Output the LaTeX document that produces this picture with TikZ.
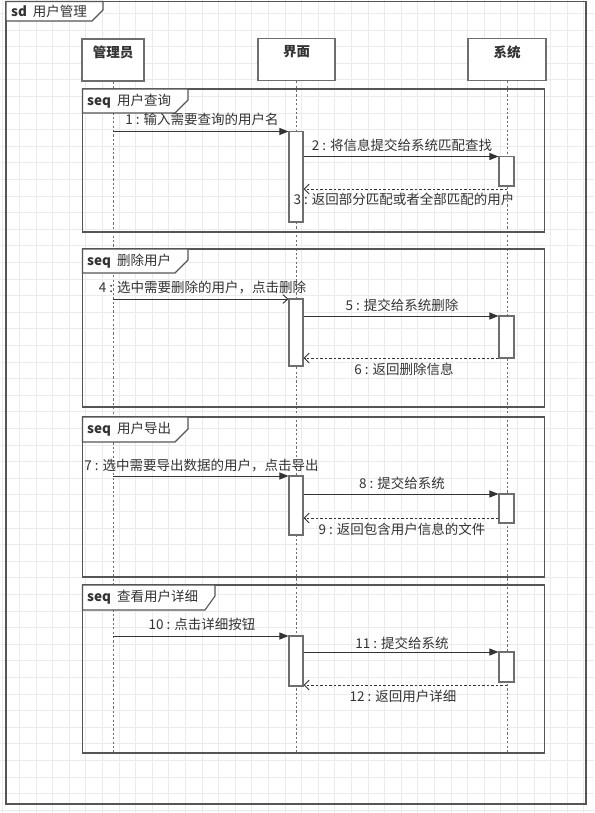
\documentclass[tikz,border=0pt]{standalone}
\usepackage{fontspec}
\setmainfont{Noto Sans CJK SC}
\usetikzlibrary{arrows.meta}
\definecolor{gridc}{HTML}{EBEBEB}
\definecolor{linec}{HTML}{555555}
\definecolor{boxc}{HTML}{6E6E6E}
\definecolor{txtc}{HTML}{333333}
\tikzset{
  txt/.style={font=\fontsize{13.5}{16}\selectfont, text=txtc, inner sep=0pt},
  frame/.style={draw=linec, line width=1.1pt},
  tab/.style={draw=linec, line width=1.1pt, fill=white},
  headbox/.style={draw=boxc, line width=1.3pt, fill=white, minimum width=62pt, minimum height=42pt, inner sep=0pt},
  life/.style={draw=boxc, line width=0.9pt, dash pattern=on 2.2pt off 2.2pt},
  act/.style={draw=boxc, line width=1.1pt, fill=white, minimum width=14pt, inner sep=0pt},
  msg/.style={draw=txtc, line width=0.9pt, -{Triangle[length=9pt,width=7pt]}},
  msgopen/.style={draw=txtc, line width=0.9pt, -{Straight Barb[length=5pt,width=9pt]}},
  ret/.style={draw=txtc, line width=0.9pt, dash pattern=on 2.5pt off 2pt, -{Straight Barb[length=5pt,width=10pt]}},
}
\begin{document}
\begin{tikzpicture}[x=1pt,y=-1pt]
\useasboundingbox (0,0) rectangle (594,813);
\fill[white] (0,0) rectangle (594,813);
% grid
\foreach \i in {0,...,36} { \draw[gridc, line width=0.5pt] (2.7+16.6*\i,0) -- (2.7+16.6*\i,813); }
\foreach \i in {0,...,49} { \draw[gridc, line width=0.5pt] (0,-3.3+16.6*\i) -- (594,-3.3+16.6*\i); }

% outer frame
\draw[frame, line width=1.4pt] (6,1.5) rectangle (586,804);
\draw[tab, line width=1.4pt] (6,1.5) -- (103,1.5) -- (103,10) -- (92,21) -- (6,21) -- cycle;
\node[txt, anchor=west] (sdt) at (11,11) {\textbf{sd}\hspace{6pt}用户管理};

% lifelines
\coordinate (eA) at (113,753);
\coordinate (eB) at (296.5,753);
\coordinate (eC) at (507,753);
\node[headbox] (hA) at (113,60) {};
\node[headbox, minimum width=77pt] (hB) at (296.5,59.5) {};
\node[headbox, minimum width=78pt] (hC) at (507,59.5) {};
\node[txt] (tA) at (113,52) {\textbf{管理员}};
\node[txt] (tB) at (296.5,52) {\textbf{界面}};
\node[txt] (tC) at (507,52) {\textbf{系统}};
\draw[life] (hA.south) -- (eA);
\draw[life] (hB.south) -- (eB);
\draw[life] (hC.south) -- (eC);

% fragments
\draw[frame] (82.5,89) rectangle (544.5,232);
\draw[tab] (82.5,89) -- (188,89) -- (188,100) -- (175,113) -- (82.5,113) -- cycle;
\node[txt, anchor=west] (f1) at (87,101) {\textbf{seq}\hspace{6pt}用户查询};

\draw[frame] (82.5,249) rectangle (544.5,407);
\draw[tab] (82.5,249) -- (188,249) -- (188,260) -- (175,273) -- (82.5,273) -- cycle;
\node[txt, anchor=west] (f2) at (87,261) {\textbf{seq}\hspace{6pt}删除用户};

\draw[frame] (82.5,417) rectangle (544.5,577);
\draw[tab] (82.5,417) -- (188,417) -- (188,429) -- (175,442) -- (82.5,442) -- cycle;
\node[txt, anchor=west] (f3) at (87,429.5) {\textbf{seq}\hspace{6pt}用户导出};

\draw[frame] (82.5,585) rectangle (544.5,753);
\draw[tab] (82.5,585) -- (215,585) -- (215,596) -- (205,610) -- (82.5,610) -- cycle;
\node[txt, anchor=west] (f4) at (87,597.5) {\textbf{seq}\hspace{6pt}查看用户详细};

% activations
\node[act, minimum height=90.5pt] (a1) at (296,176.75) {};
\node[act, minimum height=29.5pt, minimum width=15pt] (a2) at (506.5,171.25) {};
\node[act, minimum height=67pt] (a4) at (296,332.5) {};
\node[act, minimum height=42pt, minimum width=15pt] (a5) at (506.5,337) {};
\node[act, minimum height=59pt] (a7) at (296,505.5) {};
\node[act, minimum height=29pt, minimum width=15pt] (a8) at (506.5,508.5) {};
\node[act, minimum height=50pt] (a10) at (296,661) {};
\node[act, minimum height=30pt, minimum width=15pt] (a11) at (506.5,667) {};

% messages
\coordinate (m1) at (113,131.5);
\draw[msg] (m1) -- (m1 -| a1.west);
\node[txt] (l1) at (202,119) {1 : 输入需要查询的用户名};
\coordinate (m2) at (303,156.5);
\draw[msg] (m2 -| a1.east) -- (m2 -| a2.west);
\node[txt] (l2) at (402,145) {2 : 将信息提交给系统匹配查找};
\coordinate (m3) at (507,189);
\draw[ret] (m3) -- (m3 -| a1.east);
\node[txt] (l3) at (404,199.5) {3 : 返回部分匹配或者全部匹配的用户};

\coordinate (m4) at (113,299);
\draw[msgopen] (m4) -- (m4 -| a4.west);
\node[txt] (l4) at (202.5,288) {4 : 选中需要删除的用户，点击删除};
\coordinate (m5) at (303,316);
\draw[msg] (m5 -| a4.east) -- (m5 -| a5.west);
\node[txt] (l5) at (402,305) {5 : 提交给系统删除};
\coordinate (m6) at (499,358);
\draw[ret] (m6 -| a5.west) -- (m6 -| a4.east);
\node[txt] (l6) at (404,369) {6 : 返回删除信息};

\coordinate (m7) at (113,476);
\draw[msg] (m7) -- (m7 -| a7.west);
\node[txt] (l7) at (201.5,466) {7 : 选中需要导出数据的用户，点击导出};
\coordinate (m8) at (303,494);
\draw[msg] (m8 -| a7.east) -- (m8 -| a8.west);
\node[txt] (l8) at (402,483) {8 : 提交给系统};
\coordinate (m9) at (499,518);
\draw[ret] (m9 -| a8.west) -- (m9 -| a7.east);
\node[txt] (l9) at (402,529) {9 : 返回包含用户信息的文件};

\coordinate (m10) at (113,636);
\draw[msg] (m10) -- (m10 -| a10.west);
\node[txt] (l10) at (202,624) {10 : 点击详细按钮};
\coordinate (m11) at (303,652);
\draw[msg] (m11 -| a10.east) -- (m11 -| a11.west);
\node[txt] (l11) at (402,643) {11 : 提交给系统};
\coordinate (m12) at (507,685);
\draw[ret] (m12) -- (m12 -| a10.east);
\node[txt] (l12) at (403,696) {12 : 返回用户详细};
\end{tikzpicture}
\end{document}
